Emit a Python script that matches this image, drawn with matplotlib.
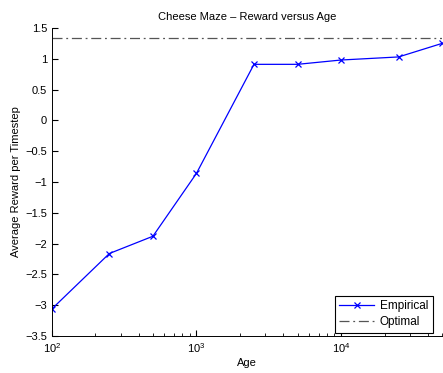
import matplotlib
matplotlib.use("Agg")
import matplotlib.pyplot as plt

ages = [100, 250, 500, 1000, 2500, 5000, 10000, 25000, 50000]
reward = [-3.06, -2.16, -1.88, -0.86, 0.91, 0.91, 0.98, 1.03, 1.25]
optimal = 1.335
yticks = [-3.5, -3, -2.5, -2, -1.5, -1, -0.5, 0, 0.5, 1, 1.5]
ytick_labels = ["\u22123.5", "\u22123", "\u22122.5", "\u22122", "\u22121.5", "\u22121",
                "\u22120.5", "0", "0.5", "1", "1.5"]

plt.rcParams["font.family"] = ["Liberation Sans", "DejaVu Sans"]
fig = plt.figure(figsize=(4.43, 3.73), dpi=100)
ax = fig.add_axes([0.117, 0.099, 0.881, 0.826])

ax.plot(ages, reward, color="blue", lw=0.9, marker="x", ms=4, mew=0.9, label="Empirical")
ax.axhline(optimal, color="#555555", lw=0.9, ls="-.", dashes=(8, 3, 1.5, 3), label="Optimal")

ax.set_xscale("log")
ax.set_xlim(100, 50000)
ax.set_ylim(-3.5, 1.5)
ax.set_yticks(yticks)
ax.set_yticklabels(ytick_labels)
ax.spines["top"].set_visible(False)
ax.spines["right"].set_visible(False)
ax.tick_params(which="both", direction="in", top=False, right=False, labelsize=8)
ax.tick_params(which="major", length=4)
ax.tick_params(which="minor", length=2)
for s in ax.spines.values():
    s.set_linewidth(0.7)

ax.set_xlabel("Age", fontsize=8, labelpad=2)
ax.set_ylabel("Average Reward per Timestep", fontsize=8, labelpad=3)
ax.set_title("Cheese Maze \u2013 Reward versus Age", fontsize=8, pad=6)

leg = ax.legend(loc="lower right", fontsize=8.5, fancybox=False, framealpha=1,
                edgecolor="black", borderaxespad=0.3, handlelength=2.9,
                borderpad=0.4, handletextpad=0.5, labelspacing=0.3,
                bbox_to_anchor=(0.985, 0.0))
leg.get_frame().set_linewidth(0.8)

fig.savefig("out.png", dpi=100)
